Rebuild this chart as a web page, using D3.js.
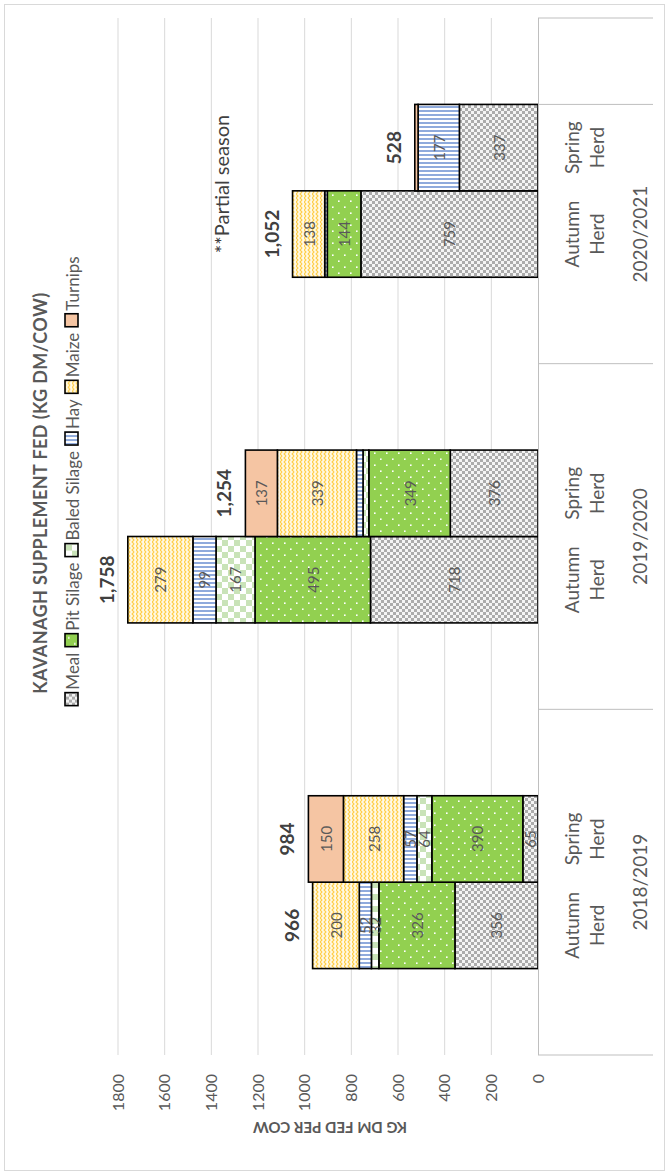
<!DOCTYPE html>
<html>
<head>
<meta charset="utf-8">
<script src="https://cdnjs.cloudflare.com/ajax/libs/d3/7.8.5/d3.min.js"></script>
<style>
  body { margin: 0; background: #fff; }
  text { font-family: Lato, "Noto Sans", sans-serif; }
</style>
</head>
<body>
<div id="chart"></div>
<script>
// chart values
var categories = ["", "Autumn Herd", "Spring Herd", "", "", "Autumn Herd", "Spring Herd", "", "", "Autumn Herd", "Spring Herd", ""];
var seasons = ["2018/2019", "2019/2020", "2020/2021", ""];
var seasonSlots = [4, 4, 3, 1];
var seriesNames = ["Meal", "Pit Silage", "Baled Silage", "Hay", "Maize", "Turnips"];
var meal    = [0, 356, 65, 0, 0, 718, 376, 0, 0, 759, 337, 0];
var pit     = [0, 326, 390, 0, 0, 495, 349, 0, 0, 144, 0, 0];
var baled   = [0, 32, 64, 0, 0, 167, 25, 0, 0, 0, 0, 0];
var hay     = [0, 52, 57, 0, 0, 99, 28, 0, 0, 11, 177, 0];
var maize   = [0, 200, 258, 0, 0, 279, 339, 0, 0, 138, 0, 0];
var turnips = [0, 0, 150, 0, 0, 0, 137, 0, 0, 0, 14, 0];
var yTicks = [0, 200, 400, 600, 800, 1000, 1200, 1400, 1600, 1800];
var title = "KAVANAGH SUPPLEMENT FED (KG DM/COW)";
var yTitle = "KG DM FED PER COW";
var note = "**Partial season";

var W = 1176, H = 669;   // chart drawn unrotated, then turned on its side

var series = [meal, pit, baled, hay, maize, turnips];
var table = categories.map(function (c, i) {
    var row = { idx: i };
    seriesNames.forEach(function (s, k) { row[s] = series[k][i]; });
    row.total = d3.sum(series, function (a) { return a[i]; });
    return row;
});

var svg = d3.select("#chart").append("svg")
    .attr("width", 669)
    .attr("height", 1176);

// outer frame
svg.append("rect")
    .attr("x", 4.5).attr("y", 4.5)
    .attr("width", 660).attr("height", 1166)
    .attr("fill", "#fff")
    .attr("stroke", "#d9d9d9");

var defs = svg.append("defs");
function pat(id, w, h) {
    return defs.append("pattern").attr("id", id)
        .attr("patternUnits", "userSpaceOnUse")
        .attr("width", w).attr("height", h);
}
var p;
p = pat("pMeal", 6, 6);
p.append("rect").attr("width", 6).attr("height", 6).attr("fill", "#f4f4f4");
p.append("rect").attr("width", 3).attr("height", 3).attr("fill", "#ababab");
p.append("rect").attr("x", 3).attr("y", 3).attr("width", 3).attr("height", 3).attr("fill", "#ababab");

p = pat("pPit", 12, 12);
p.append("rect").attr("width", 12).attr("height", 12).attr("fill", "#92d050");
p.append("rect").attr("x", 2).attr("y", 2).attr("width", 1.6).attr("height", 1.6).attr("fill", "#fff");
p.append("rect").attr("x", 8).attr("y", 8).attr("width", 1.6).attr("height", 1.6).attr("fill", "#fff");

p = pat("pBaled", 12, 12);
p.append("rect").attr("width", 12).attr("height", 12).attr("fill", "#fff");
p.append("rect").attr("width", 6).attr("height", 6).attr("fill", "#c9e3b8");
p.append("rect").attr("x", 6).attr("y", 6).attr("width", 6).attr("height", 6).attr("fill", "#c9e3b8");

p = pat("pHay", 4, 4);
p.append("rect").attr("width", 4).attr("height", 4).attr("fill", "#fff");
p.append("rect").attr("width", 2).attr("height", 4).attr("fill", "#8faadc");

p = pat("pMaize", 8, 8);
p.append("rect").attr("width", 8).attr("height", 8).attr("fill", "#fff9e6");
p.append("path").attr("d", "M0,2 L2,0 L4,2 L6,0 L8,2 M0,6 L2,4 L4,6 L6,4 L8,6")
    .attr("fill", "none").attr("stroke", "#ffcf4a").attr("stroke-width", 1.1);

var fills = {
    "Meal": "url(#pMeal)",
    "Pit Silage": "url(#pPit)",
    "Baled Silage": "url(#pBaled)",
    "Hay": "url(#pHay)",
    "Maize": "url(#pMaize)",
    "Turnips": "#f5c5a3"
};

var g = svg.append("g").attr("transform", "translate(0," + W + ") rotate(-90)");

var x = d3.scaleBand()
    .domain(d3.range(categories.length))
    .range([121, 1158])
    .padding(0);

var y = d3.scaleLinear()
    .domain([0, 1800])
    .range([538, 118]);

// gridlines + value axis labels
var yAxis = g.append("g")
    .attr("transform", "translate(121,0)")
    .call(d3.axisLeft(y).tickValues(yTicks).tickFormat(d3.format("d")).tickSize(0).tickPadding(19));
yAxis.select(".domain").remove();
yAxis.selectAll("text")
    .style("font-size", "16px")
    .attr("fill", "#595959");

g.append("g").selectAll("line")
    .data(yTicks.slice(1))
    .enter().append("line")
    .attr("x1", 121).attr("x2", 1158)
    .attr("y1", function (d) { return y(d); })
    .attr("y2", function (d) { return y(d); })
    .attr("stroke", "#d9d9d9");

g.append("text")
    .attr("transform", "translate(48," + 330 + ") rotate(-90)")
    .attr("text-anchor", "middle")
    .attr("dominant-baseline", "central")
    .style("font-size", "15px")
    .style("font-weight", "bold")
    .attr("fill", "#595959")
    .text(yTitle);

// stacked bars
var stack = d3.stack().keys(seriesNames)(table);

var layers = g.append("g").selectAll("g")
    .data(stack)
    .enter().append("g")
    .attr("fill", function (d) { return fills[d.key]; });

layers.selectAll("rect")
    .data(function (d) { return d.filter(function (s) { return s[1] - s[0] > 0; }); })
    .enter().append("rect")
    .attr("x", function (d) { return x(d.data.idx); })
    .attr("width", x.bandwidth())
    .attr("y", function (d) { return y(d[1]); })
    .attr("height", function (d) { return y(d[0]) - y(d[1]); })
    .attr("stroke", "#000")
    .attr("stroke-width", 1.6);

layers.selectAll("text")
    .data(function (d) { return d.filter(function (s) { return s[1] - s[0] >= 30; }); })
    .enter().append("text")
    .attr("x", function (d) { return x(d.data.idx) + x.bandwidth() / 2; })
    .attr("y", function (d) { return (y(d[0]) + y(d[1])) / 2; })
    .attr("text-anchor", "middle")
    .attr("dominant-baseline", "central")
    .style("font-size", "15px")
    .attr("fill", "#595959")
    .text(function (d) { return d[1] - d[0]; });

// totals
g.append("g").selectAll("text")
    .data(table.filter(function (d) { return d.total > 0; }))
    .enter().append("text")
    .attr("x", function (d) { return x(d.idx) + x.bandwidth() / 2; })
    .attr("y", function (d) { return y(d.total) - 14; })
    .attr("text-anchor", "middle")
    .style("font-size", "19px")
    .style("font-weight", "bold")
    .attr("fill", "#404040")
    .text(function (d) { return d3.format(",")(d.total); });

// category axis
g.append("line")
    .attr("x1", 121).attr("x2", 1158)
    .attr("y1", 538.5).attr("y2", 538.5)
    .attr("stroke", "#bfbfbf");

var herdLabels = g.append("g").selectAll("text")
    .data(table.filter(function (d) { return categories[d.idx] !== ""; }))
    .enter().append("text")
    .attr("text-anchor", "middle")
    .style("font-size", "19px")
    .attr("fill", "#595959");
herdLabels.append("tspan")
    .attr("x", function (d) { return x(d.idx) + x.bandwidth() / 2; })
    .attr("y", 579)
    .text(function (d) { return categories[d.idx].split(" ")[0]; });
herdLabels.append("tspan")
    .attr("x", function (d) { return x(d.idx) + x.bandwidth() / 2; })
    .attr("y", 604)
    .text(function (d) { return categories[d.idx].split(" ")[1]; });

var start = 0;
var groups = seasons.map(function (s, i) {
    var o = { name: s, from: start, to: start + seasonSlots[i] };
    start += seasonSlots[i];
    return o;
});
var sepPos = [x(0)].concat(groups.map(function (d) { return x(d.to - 1) + x.bandwidth(); }));
g.append("g").selectAll("line")
    .data(sepPos)
    .enter().append("line")
    .attr("x1", function (d) { return d; })
    .attr("x2", function (d) { return d; })
    .attr("y1", 538).attr("y2", 653)
    .attr("stroke", "#bfbfbf");

g.append("g").selectAll("text")
    .data(groups)
    .enter().append("text")
    .attr("x", function (d) { return (x(d.from) + x(d.to - 1) + x.bandwidth()) / 2; })
    .attr("y", 647)
    .attr("text-anchor", "middle")
    .style("font-size", "19px")
    .attr("fill", "#595959")
    .text(function (d) { return d.name; });

// title
g.append("text")
    .attr("x", 683).attr("y", 47)
    .attr("text-anchor", "middle")
    .style("font-size", "18px")
    .style("font-weight", "bold")
    .style("letter-spacing", "0.4px")
    .attr("fill", "#595959")
    .text(title);

// legend
var legend = g.append("g");
var lx = 0;
seriesNames.forEach(function (s) {
    var item = legend.append("g").attr("transform", "translate(" + lx + ",0)");
    item.append("rect")
        .attr("x", 0).attr("y", -7)
        .attr("width", 13).attr("height", 13)
        .attr("fill", fills[s])
        .attr("stroke", "#000")
        .attr("stroke-width", 1.6);
    var t = item.append("text")
        .attr("x", 16).attr("y", 0)
        .attr("dominant-baseline", "central")
        .style("font-size", "17px")
        .attr("fill", "#595959")
        .text(s);
    lx += 16 + t.node().getComputedTextLength() + 6;
});
legend.attr("transform", "translate(" + (695 - (lx - 6) / 2) + ",72)");

// note
g.append("text")
    .attr("x", 992).attr("y", 229)
    .attr("text-anchor", "middle")
    .style("font-size", "20px")
    .attr("fill", "#404040")
    .text(note);
</script>
</body>
</html>
